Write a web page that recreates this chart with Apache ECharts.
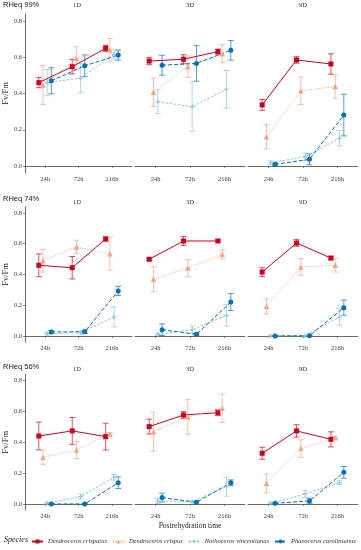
<!DOCTYPE html>
<html>
<head>
<meta charset="utf-8">
<script src="https://cdn.jsdelivr.net/npm/echarts@6/dist/echarts.min.js"></script>
<style>html,body{margin:0;padding:0;background:#fff;}#main{width:361px;height:550px;}</style>
</head>
<body>
<div id="main"></div>
<script>
const categories = ['24h', '72h', '216h'];
const days = ['1D', '3D', '9D'];
const rhLevels = ['RHeq 99%', 'RHeq 74%', 'RHeq 56%'];
const speciesNames = ['Dendroceros crispatus', 'Dendroceros crispus', 'Nothoceros vincentianus', 'Phaeoceros carolinianus'];
const yTicks = [0, 0.2, 0.4, 0.6, 0.8];

// mean[row][panel][time]  (rows: RHeq 99/74/56 %, panels: 1D/3D/9D)
const crispatusMean = [
  [[0.460, 0.548, 0.649], [0.579, 0.589, 0.631], [0.337, 0.585, 0.563]],
  [[0.460, 0.444, 0.631], [0.499, 0.618, 0.618], [0.416, 0.605, 0.507]],
  [[0.441, 0.474, 0.437], [0.502, 0.577, 0.592], [0.329, 0.474, 0.419]]
];
const crispatusSE = [
  [[0.028, 0.040, 0.017], [0.020, 0.025, 0.014], [0.030, 0.018, 0.056]],
  [[0.074, 0.073, 0.013], [0.008, 0.029, 0.008], [0.028, 0.022, 0.011]],
  [[0.090, 0.087, 0.087], [0.048, 0.022, 0.019], [0.039, 0.040, 0.049]]
];
const crispusMean = [
  [[0.447, 0.594, 0.640], [0.407, 0.548, 0.620], [0.162, 0.415, 0.438]],
  [[0.490, 0.579, 0.535], [0.369, 0.442, 0.531], [0.193, 0.449, 0.460]],
  [[0.303, 0.350, 0.454], [0.469, 0.566, 0.621], [0.134, 0.359, 0.430]]
];
const crispusSE = [
  [[0.107, 0.064, 0.063], [0.078, 0.060, 0.050], [0.067, 0.076, 0.064]],
  [[0.074, 0.044, 0.108], [0.080, 0.056, 0.030], [0.049, 0.054, 0.044]],
  [[0.046, 0.056, 0.008], [0.127, 0.113, 0.092], [0.062, 0.057, 0.008]]
];
const nothocerosMean = [
  [[0.460, 0.485, 0.615], [0.355, 0.327, 0.423], [0.018, 0.051, 0.153]],
  [[0.015, 0.022, 0.124], [0.011, 0.041, 0.134], [0.002, 0.002, 0.124]],
  [[0.004, 0.048, 0.173], [0.019, 0.015, 0.112], [0.004, 0.065, 0.138]]
];
const nothocerosSE = [
  [[0.072, 0.080, 0.025], [0.065, 0.136, 0.104], [0.010, 0.020, 0.043]],
  [[0.008, 0.010, 0.065], [0.008, 0.025, 0.070], [0.003, 0.003, 0.054]],
  [[0.005, 0.015, 0.018], [0.016, 0.008, 0.062], [0.004, 0.022, 0.012]]
];
const phaeocerosMean = [
  [[0.470, 0.553, 0.612], [0.556, 0.566, 0.638], [0.009, 0.037, 0.281]],
  [[0.026, 0.028, 0.293], [0.041, 0.011, 0.221], [0.000, 0.002, 0.184]],
  [[0.000, 0.000, 0.138], [0.041, 0.011, 0.138], [0.004, 0.019, 0.205]]
];
const phaeocerosSE = [
  [[0.072, 0.060, 0.028], [0.055, 0.098, 0.054], [0.008, 0.030, 0.115]],
  [[0.010, 0.012, 0.030], [0.038, 0.008, 0.055], [0.002, 0.002, 0.049]],
  [[0.002, 0.002, 0.038], [0.029, 0.005, 0.018], [0.004, 0.018, 0.038]]
];

const means = [crispatusMean, crispusMean, nothocerosMean, phaeocerosMean];
const ses = [crispatusSE, crispusSE, nothocerosSE, phaeocerosSE];
const colors = ['#CA0020', '#F4A582', '#92C5DE', '#0571B0'];
const symbols = ['rect', 'triangle', 'path://M4,0h2v4h4v2h-4v4h-2v-4h-4v-2h4z', 'circle'];
const symbolSizes = [5, 5.5, 5, 5];
const lineTypes = ['solid', [1, 1.5], [2.5, 1.5], [4, 2]];
const dodge = [-0.1875, -0.0625, 0.0625, 0.1875];

const serif = '"Liberation Serif", "DejaVu Serif", serif';
const sans = '"Liberation Sans", Arial, sans-serif';

const rowTop = [13.75, 206.85, 374.5];
const rowHeight = [159.5, 135.3, 135.6];
const rowTitleTop = [0.5, 194.5, 362.5];
const dayLabelTop = [2, 199, 366];
const colLeft = [22, 135, 248];
const colWidth = 110;

const grids = [], xAxes = [], yAxes = [], series = [], titles = [];
for (let r = 0; r < 3; r++) {
  titles.push({ text: rhLevels[r], left: 3, top: rowTitleTop[r], padding: 0,
    textStyle: { fontFamily: sans, fontSize: 7.5, fontWeight: 'normal', color: '#222' } });
  for (let c = 0; c < 3; c++) {
    const gi = r * 3 + c;
    grids.push({ left: colLeft[c], top: rowTop[r], width: colWidth, height: rowHeight[r] });
    titles.push({ text: days[c], left: colLeft[c] + colWidth / 2, textAlign: 'center',
      top: dayLabelTop[r], padding: 0,
      textStyle: { fontFamily: serif, fontSize: 6.5, fontWeight: 'normal', color: '#333' } });
    xAxes.push({
      gridIndex: gi, type: 'value', min: 0.4, max: 3.6,
      name: (r === 2 && c === 1) ? 'Postrehydration time' : '',
      nameLocation: 'middle', nameGap: 12,
      nameTextStyle: { fontFamily: serif, fontSize: 7.5, color: '#222' },
      axisLine: { show: true, lineStyle: { color: '#444', width: 0.8 } },
      axisTick: { show: true, length: 2, customValues: [1, 2, 3], lineStyle: { color: '#444', width: 0.6 } },
      axisLabel: { customValues: [1, 2, 3], formatter: v => categories[Math.round(v) - 1],
        fontFamily: serif, fontSize: 6.5, color: '#444', margin: 3 },
      splitLine: { show: false }
    });
    yAxes.push({
      gridIndex: gi, type: 'value', min: -0.04, max: 0.84,
      name: c === 0 ? 'Fv/Fm' : '', nameLocation: 'middle', nameGap: 15,
      nameTextStyle: { fontFamily: serif, fontSize: 8.5, color: '#222' },
      axisLine: { show: c === 0, lineStyle: { color: '#444', width: 0.8 } },
      axisTick: { show: c === 0, length: 2, customValues: yTicks, lineStyle: { color: '#444', width: 0.6 } },
      axisLabel: { show: c === 0, customValues: yTicks, formatter: v => v.toFixed(1),
        fontFamily: serif, fontSize: 6.5, color: '#444', margin: 3 },
      splitLine: { show: false }
    });
    for (let s = 0; s < 4; s++) {
      const m = means[s][r][c], e = ses[s][r][c];
      const errData = m.map((v, t) => [t + 1 + dodge[s], v - e[t], v + e[t]]);
      series.push({
        type: 'custom', name: speciesNames[s] + ' (SE)', xAxisIndex: gi, yAxisIndex: gi,
        data: errData, encode: { x: 0, y: [1, 2] }, z: 2, silent: true,
        itemStyle: { color: colors[s] },
        renderItem: (params, api) => {
          const x = api.value(0);
          const p1 = api.coord([x, api.value(1)]);
          const p2 = api.coord([x, api.value(2)]);
          const w = 3;
          const st = { stroke: colors[s], lineWidth: 0.8, opacity: 0.85 };
          return { type: 'group', children: [
            { type: 'line', shape: { x1: p1[0], y1: p1[1], x2: p2[0], y2: p2[1] }, style: st },
            { type: 'line', shape: { x1: p1[0] - w, y1: p1[1], x2: p1[0] + w, y2: p1[1] }, style: st },
            { type: 'line', shape: { x1: p2[0] - w, y1: p2[1], x2: p2[0] + w, y2: p2[1] }, style: st }
          ] };
        }
      });
      series.push({
        type: 'line', name: speciesNames[s], xAxisIndex: gi, yAxisIndex: gi,
        data: m.map((v, t) => [t + 1 + dodge[s], v]),
        symbol: symbols[s], symbolSize: symbolSizes[s], showSymbol: true, z: 3,
        itemStyle: { color: colors[s] },
        lineStyle: { color: colors[s], width: 1, type: lineTypes[s] },
        animation: false, silent: true
      });
    }
  }
}

const chart = echarts.init(document.getElementById('main'), null, { renderer: 'canvas' });
chart.setOption({
  animation: false,
  backgroundColor: '#fff',
  title: titles,
  grid: grids,
  xAxis: xAxes,
  yAxis: yAxes,
  series: series,
  legend: {
    data: speciesNames,
    left: 31, top: 538, padding: 0, itemWidth: 11, itemHeight: 5, itemGap: 5,
    textStyle: { fontFamily: serif, fontStyle: 'italic', fontSize: 6.5, color: '#333' },
    selectedMode: false
  },
  graphic: [{
    type: 'text', left: 4, top: 536,
    style: { text: 'Species', fontFamily: serif, fontStyle: 'italic', fontSize: 8, fill: '#222' }
  }]
});
</script>
</body>
</html>
